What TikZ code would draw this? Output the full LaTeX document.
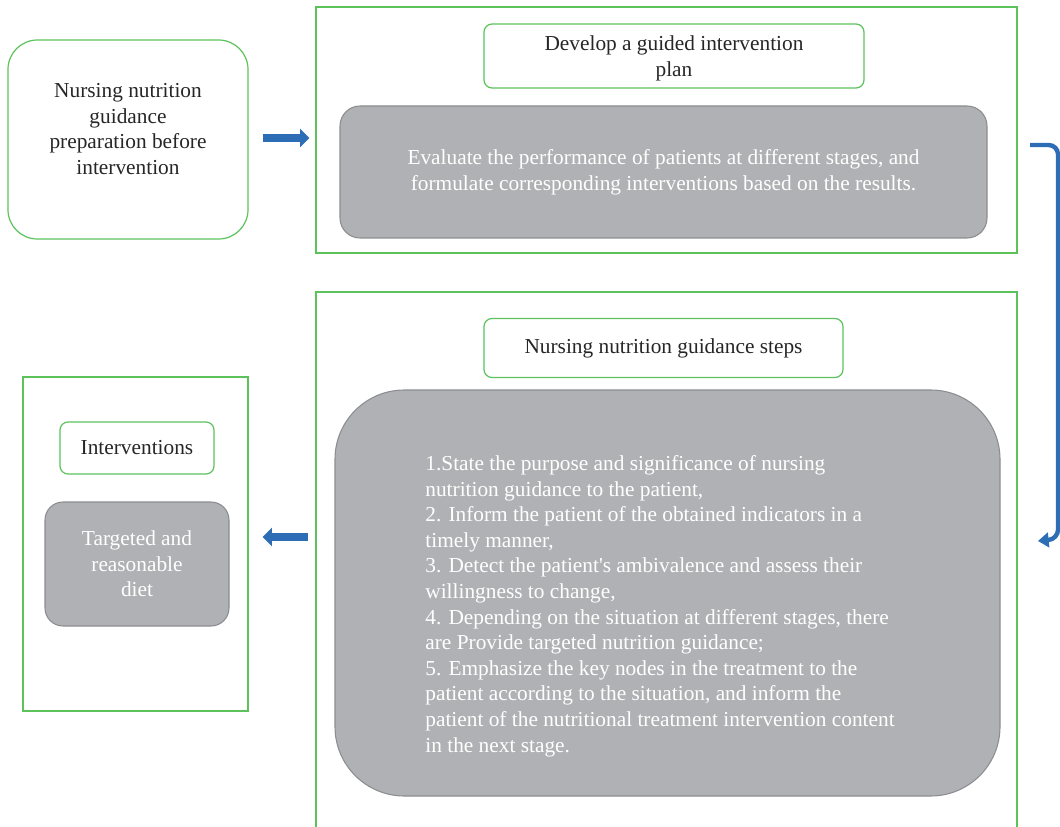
\documentclass[tikz,border=0pt]{standalone}
\usepackage{fontspec}
\setmainfont{Liberation Serif}
\usetikzlibrary{arrows.meta}
\definecolor{grn}{HTML}{5CC25C}
\definecolor{gfill}{HTML}{B0B1B4}
\definecolor{gline}{HTML}{8C8D90}
\definecolor{blu}{HTML}{2D6DB5}
\tikzset{
  txt/.style={font=\fontsize{16}{19.2}\selectfont, align=center, text=black!85},
  greenbox/.style={draw=grn, line width=0.9pt, inner sep=0pt},
  graybox/.style={draw=gline, fill=gfill, line width=0.8pt, text=white, inner sep=0pt},
  blockarrow/.style={draw=blu, line width=6pt, -{Triangle[length=7pt,width=13.5pt]}},
  bent/.style={draw=blu, line width=3.3pt, rounded corners=7pt, -{Triangle[length=8pt,width=11pt]}},
}
\begin{document}
\begin{tikzpicture}[x=0.75pt,y=-0.75pt]
\useasboundingbox (0,0) rectangle (1060,827);
% top-left box
\node[greenbox, rounded corners=22pt, minimum width=180pt, minimum height=149.25pt] (A) at (128,139.5) {};
\node[txt] (At) at (128,129) {Nursing nutrition\\guidance\\preparation before\\intervention};
% top big box
\node[greenbox, minimum width=525.75pt, minimum height=184.5pt] (T) at (666.5,130) {};
\node[greenbox, rounded corners=6pt, minimum width=285pt, minimum height=48pt] (T1) at (674,56) {};
\node[txt] (T1t) at (674,58.5) {Develop a guided intervention\\plan};
\node[graybox, txt, text=white, rounded corners=15pt, minimum width=485.25pt, minimum height=99pt] (G1) at (663.5,172)
  {Evaluate the performance of patients at different stages, and\\formulate corresponding interventions based on the results.};
% bottom big box (open at bottom)
\coordinate (B1) at (316,830);
\coordinate (B2) at (316,292);
\coordinate (B3) at (1017,292);
\coordinate (B4) at (1017,830);
\draw[grn, line width=0.9pt] (B1) -- (B2) -- (B3) -- (B4);
\node[greenbox, txt, rounded corners=6pt, minimum width=269.25pt, minimum height=44.25pt] (T2) at (663.5,348)
  {Nursing nutrition guidance steps};
\node[graybox, rounded corners=52pt, minimum width=498.75pt, minimum height=304.5pt] (G2) at (667.5,593) {};
\node[txt, text=white, align=left] (G2t) at (660,606)
  {1.State the purpose and significance of nursing\\
   nutrition guidance to the patient,\\
   2. Inform the patient of the obtained indicators in a\\
   timely manner,\\
   3. Detect the patient\textquotesingle s ambivalence and assess their\\
   willingness to change,\\
   4. Depending on the situation at different stages, there\\
   are Provide targeted nutrition guidance;\\
   5. Emphasize the key nodes in the treatment to the\\
   patient according to the situation, and inform the\\
   patient of the nutritional treatment intervention content\\
   in the next stage.};
% left box
\node[greenbox, minimum width=168.75pt, minimum height=250.5pt] (L) at (135.5,544) {};
\node[greenbox, txt, rounded corners=6pt, minimum width=115.5pt, minimum height=39pt] (I) at (137,448) {Interventions};
\node[graybox, txt, text=white, rounded corners=13.5pt, minimum width=138pt, minimum height=93pt] (G3) at (137,564)
  {Targeted and\\reasonable\\diet};
% connectors
\draw[blockarrow, shorten <=10.5pt, shorten >=4.5pt] (A.east |- 0,138) -- (T.west |- 0,138);
\coordinate (S) at (1030,145);
\coordinate (E) at (1038,541);
\draw[bent] (S) -- (1058,145) -- (1058,539) -- (E);
\coordinate (P) at (316,537);
\draw[blockarrow, shorten <=6pt, shorten >=10.5pt] (P) -- (L.east |- P);
\end{tikzpicture}
\end{document}
